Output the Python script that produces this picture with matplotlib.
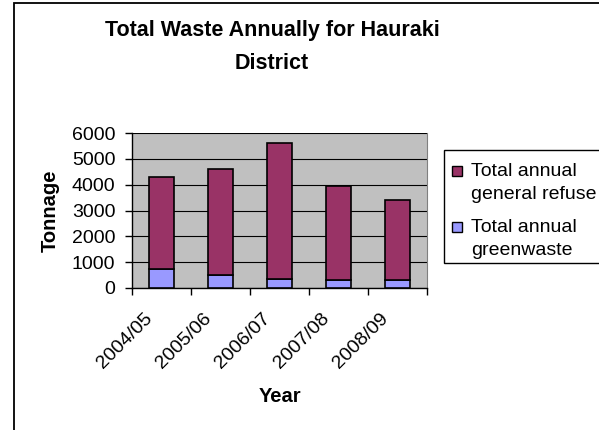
import matplotlib
matplotlib.use("Agg")
import matplotlib.pyplot as plt
from matplotlib.patches import Rectangle
import numpy as np

plt.rcParams['font.family'] = ['Liberation Sans', 'DejaVu Sans']

years = ["2004/05", "2005/06", "2006/07", "2007/08", "2008/09"]
greenwaste = [735, 500, 360, 310, 310]
general_refuse = [3575, 4120, 5240, 3650, 3100]
series_labels = ["Total annual\ngeneral refuse", "Total annual\ngreenwaste"]
series_colors = ['#993366', '#9999FF']
yticks = [0, 1000, 2000, 3000, 4000, 5000, 6000]

W, H = 599, 430
fig = plt.figure(figsize=(W / 100, H / 100), dpi=100)

def fx(px):
    return px / W

def fy(py):
    return 1 - py / H

# outer chart border (right and bottom edges fall outside the image)
fig.add_artist(Rectangle((fx(14), -0.05), 1.0, fy(3) + 0.05, transform=fig.transFigure,
                         fill=False, edgecolor='black', linewidth=1.3))

ax = fig.add_axes([fx(132), fy(288), (427 - 132) / W, (288 - 133) / H])
ax.set_facecolor('#C0C0C0')

x = np.arange(len(years))
bw = 0.44
ax.bar(x, greenwaste, width=bw, color=series_colors[1], edgecolor='black', linewidth=1.2, zorder=3)
ax.bar(x, general_refuse, width=bw, bottom=greenwaste, color=series_colors[0],
       edgecolor='black', linewidth=1.2, zorder=3)

ax.set_ylim(0, 6000)
ax.set_xlim(-0.5, len(years) - 0.5)
ax.set_yticks(yticks)
ax.set_yticklabels([str(v) for v in yticks], fontsize=14)
ax.yaxis.grid(True, color='black', linewidth=0.8, zorder=1)
ax.set_axisbelow(True)

ax.set_xticks(np.arange(-0.5, len(years), 1.0))
ax.set_xticklabels([])
# rotated labels sit slightly left of the category centre, as in the original
ax.set_xticks(x - 0.2, minor=True)
ax.set_xticklabels(years, minor=True, rotation=45, ha='right', va='center',
                   rotation_mode='anchor', fontsize=14)
ax.tick_params(axis='x', which='minor', length=0, pad=20)
ax.tick_params(axis='x', which='major', direction='out', length=5, width=1)
ax.tick_params(axis='y', direction='out', length=5, width=1, pad=7)

ax.spines['top'].set_visible(False)
ax.spines['right'].set_color('#808080')
ax.spines['left'].set_linewidth(1)
ax.spines['bottom'].set_linewidth(1)

fig.text(fx(50), fy(211), "Tonnage", fontsize=14.5, fontweight='bold',
         rotation=90, ha='center', va='center')
fig.text(fx(280), fy(397), "Year", fontsize=14.5, fontweight='bold',
         ha='center', va='center')

fig.text(fx(272), fy(47), "Total Waste Annually for Hauraki\nDistrict",
         fontsize=15.5, fontweight='bold', ha='center', va='center', linespacing=1.75)

# legend (drawn by hand to match the original layout)
fig.add_artist(Rectangle((fx(444), fy(263)), 1.0, (263 - 150) / H,
                         transform=fig.transFigure, fill=True, facecolor='white',
                         edgecolor='black', linewidth=1))
entry_base = [176, 232]
for lab, col, yb in zip(series_labels, series_colors, entry_base):
    fig.add_artist(Rectangle((fx(452), fy(yb)), 10 / W, 10 / H, transform=fig.transFigure,
                             facecolor=col, edgecolor='black', linewidth=1))
    for i, line in enumerate(lab.split('\n')):
        fig.text(fx(471), fy(yb + i * 23), line, fontsize=14, ha='left', va='baseline')

fig.savefig("out.png", dpi=100)
